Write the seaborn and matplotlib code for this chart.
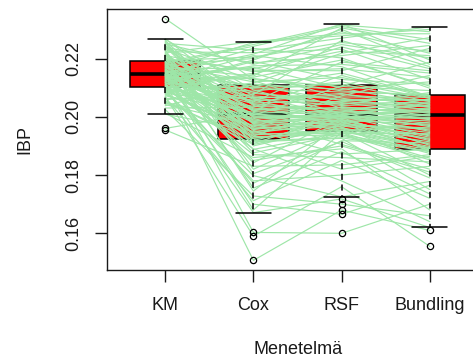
import matplotlib
matplotlib.use("Agg")
import matplotlib.pyplot as plt
import pandas as pd
import seaborn as sns

methods = ["KM", "Cox", "RSF", "Bundling"]

# Integrated Brier score per data split, one entry per split for each method
ibp_km = [
    0.2120, 0.2070, 0.2161, 0.2099, 0.2140, 0.2025, 0.2189, 0.2087, 0.2226, 0.1955,
    0.2146, 0.2110, 0.2174, 0.2055, 0.2259, 0.2129, 0.2092, 0.2205, 0.2155, 0.2009,
    0.2138, 0.2180, 0.2076, 0.2245, 0.2117, 0.2164, 0.2047, 0.2197, 0.2144, 0.2102,
    0.1960, 0.2215, 0.2132, 0.2170, 0.2082, 0.2268, 0.2149, 0.2123, 0.2186, 0.2063,
    0.2232, 0.2142, 0.2106, 0.2201, 0.2158, 0.2038, 0.2177, 0.2337, 0.2135, 0.2096,
    0.2210, 0.2167, 0.2126, 0.2238, 0.2113, 0.2193, 0.2152, 0.2252, 0.2183, 0.2220,
    0.2156, 0.2066, 0.2203, 0.2115, 0.2089, 0.2229, 0.2139, 0.2012, 0.2181, 0.2100,
    0.2255, 0.2127, 0.2165, 0.2051, 0.2213, 0.2095, 0.2145, 0.2241, 0.2079, 0.2190,
    0.2118, 0.2150, 0.2042, 0.2262, 0.2133, 0.2175, 0.2097, 0.2218, 0.2108, 0.2159,
    0.2072, 0.2195, 0.2141, 0.2030, 0.2245, 0.2121, 0.2172, 0.2093, 0.2208, 0.2136,
    0.2059, 0.2184, 0.2266, 0.2104, 0.2153, 0.2084, 0.2235, 0.2124, 0.2169, 0.2098,
    0.2199, 0.2143, 0.2250, 0.2111, 0.2178, 0.2130, 0.2223, 0.2147, 0.2187, 0.2162,
]
ibp_cox = [
    0.1507, 0.1590, 0.1603, 0.1671, 0.1700, 0.1728, 0.1755, 0.1780, 0.1805, 0.1830,
    0.1850, 0.1870, 0.1888, 0.1905, 0.1918, 0.1926, 0.1932, 0.1938, 0.1944, 0.1950,
    0.1956, 0.1962, 0.1968, 0.1974, 0.1980, 0.1986, 0.1992, 0.1998, 0.2003, 0.2008,
    0.2012, 0.2018, 0.2024, 0.2030, 0.2036, 0.2042, 0.2048, 0.2054, 0.2060, 0.2066,
    0.2072, 0.2080, 0.2088, 0.2096, 0.2104, 0.2112, 0.2120, 0.2128, 0.2136, 0.2145,
    0.2155, 0.2165, 0.2175, 0.2185, 0.2195, 0.2205, 0.2215, 0.2228, 0.2242, 0.2258,
    0.1680, 0.1712, 0.1745, 0.1772, 0.1798, 0.1820, 0.1842, 0.1860, 0.1876, 0.1890,
    0.1900, 0.1908, 0.1914, 0.1919, 0.1922, 0.1927, 0.1934, 0.1941, 0.1947, 0.1953,
    0.1959, 0.1965, 0.1971, 0.1977, 0.1983, 0.1989, 0.1995, 0.2000, 0.2005, 0.2009,
    0.2015, 0.2021, 0.2027, 0.2033, 0.2039, 0.2045, 0.2051, 0.2057, 0.2063, 0.2069,
    0.2076, 0.2084, 0.2092, 0.2100, 0.2106, 0.2116, 0.2124, 0.2132, 0.2140, 0.2150,
    0.2160, 0.2170, 0.2180, 0.2190, 0.2200, 0.2210, 0.2220, 0.2235, 0.2248, 0.2255,
]
ibp_rsf = [
    0.1680, 0.1760, 0.1600, 0.1718, 0.1665, 0.1700, 0.1880, 0.1800, 0.1915, 0.1835,
    0.1900, 0.1860, 0.1946, 0.1963, 0.1928, 0.1958, 0.1938, 0.1953, 0.1982, 0.1968,
    0.1990, 0.1973, 0.1986, 0.1978, 0.2001, 0.1993, 0.2004, 0.1996, 0.2003, 0.1999,
    0.2020, 0.2006, 0.2032, 0.2010, 0.2026, 0.2015, 0.2053, 0.2076, 0.2039, 0.2068,
    0.2046, 0.2060, 0.2120, 0.2085, 0.2150, 0.2094, 0.2135, 0.2104, 0.2195, 0.2240,
    0.2165, 0.2225, 0.2180, 0.2210, 0.2300, 0.2255, 0.2319, 0.2270, 0.2310, 0.2285,
    0.1947, 0.1850, 0.1980, 0.1918, 0.1725, 0.1955, 0.1997, 0.1890, 0.1939, 0.1780,
    0.1970, 0.2008, 0.1926, 0.1988, 0.1820, 0.1950, 0.2035, 0.1943, 0.2002, 0.1872,
    0.1975, 0.2072, 0.1933, 0.1994, 0.2017, 0.1960, 0.1905, 0.2003, 0.2106, 0.1984,
    0.1949, 0.2049, 0.2000, 0.2142, 0.1965, 0.2023, 0.2188, 0.1991, 0.2080, 0.2005,
    0.2262, 0.2042, 0.2012, 0.2112, 0.2056, 0.2218, 0.2029, 0.2089, 0.2305, 0.2064,
    0.2158, 0.2098, 0.2248, 0.2128, 0.2292, 0.2172, 0.2232, 0.2202, 0.2315, 0.2278,
]
ibp_bundling = [
    0.1610, 0.1555, 0.1700, 0.1620, 0.1765, 0.1660, 0.1735, 0.1830, 0.1790, 0.1870,
    0.1810, 0.1845, 0.1858, 0.1891, 0.1880, 0.1914, 0.1887, 0.1898, 0.1906, 0.1938,
    0.1922, 0.1962, 0.1930, 0.1946, 0.1954, 0.1986, 0.1970, 0.2009, 0.1978, 0.1994,
    0.2003, 0.2025, 0.2015, 0.2040, 0.2020, 0.2030, 0.2035, 0.2055, 0.2045, 0.2067,
    0.2050, 0.2059, 0.2063, 0.2077, 0.2070, 0.2120, 0.2073, 0.2090, 0.2105, 0.2165,
    0.2135, 0.2210, 0.2150, 0.2245, 0.2180, 0.2225, 0.2195, 0.2309, 0.2265, 0.2285,
    0.1800, 0.1720, 0.2007, 0.1910, 0.1778, 0.1874, 0.1902, 0.1680, 0.1852, 0.1640,
    0.1958, 0.2018, 0.1750, 0.1974, 0.1864, 0.1982, 0.2005, 0.1942, 0.1934, 0.1888,
    0.1889, 0.2142, 0.1882, 0.2028, 0.2061, 0.1926, 0.1820, 0.2048, 0.2188, 0.1885,
    0.1894, 0.2012, 0.1998, 0.2065, 0.1838, 0.1990, 0.2158, 0.1918, 0.2032, 0.1950,
    0.2172, 0.2083, 0.1966, 0.2052, 0.2057, 0.2272, 0.2038, 0.2072, 0.2252, 0.2022,
    0.2235, 0.2042, 0.2202, 0.2112, 0.2218, 0.2069, 0.2128, 0.2098, 0.2292, 0.2300,
]

y_ticks = [0.16, 0.18, 0.20, 0.22]
y_tick_labels = ["0.16", "0.18", "0.20", "0.22"]

sns.set_theme(style="white")
plt.rcParams["font.family"] = ["Liberation Sans", "DejaVu Sans"]

wide = pd.DataFrame({
    "KM": ibp_km,
    "Cox": ibp_cox,
    "RSF": ibp_rsf,
    "Bundling": ibp_bundling,
})
wide["id"] = range(len(wide))
long = wide.melt(id_vars="id", var_name="Menetelmä", value_name="IBP")

W, H = 473, 364
fig = plt.figure(figsize=(W / 100, H / 100), dpi=100)
fig.patch.set_facecolor("white")
ax = fig.add_axes([107 / W, 1 - 270 / H, 381 / W, 261 / H])

sns.boxplot(
    data=long, x="Menetelmä", y="IBP", order=methods, ax=ax,
    color="#ff0000", saturation=1, width=0.8, linecolor="black", linewidth=1.1,
    boxprops=dict(zorder=2),
    medianprops=dict(color="black", linewidth=2.6, zorder=2.1),
    whiskerprops=dict(linestyle=(0, (4, 3)), zorder=4),
    capprops=dict(zorder=4),
    flierprops=dict(marker="o", markersize=4.5, markerfacecolor="none",
                    markeredgecolor="black", markeredgewidth=0.9, zorder=5),
)

# one polyline per split, linking its score across the four methods
sns.lineplot(
    data=long, x="Menetelmä", y="IBP", units="id", estimator=None,
    color="#9ee6a8", linewidth=0.85, ax=ax, zorder=3, legend=False, sort=False,
)

ax.set_xlim(-0.66, 3.66)
ax.set_ylim(0.1474, 0.2370)
ax.set_xticks(range(len(methods)))
ax.set_xticklabels(methods)
ax.set_yticks(y_ticks)
ax.set_yticklabels(y_tick_labels, rotation=90, va="center")

txt = "#1a1a1a"
ax.tick_params(axis="both", direction="out", length=8.5, width=1.0, color=txt,
               labelsize=13, labelcolor=txt, bottom=True, left=True)
ax.tick_params(axis="x", pad=11)
ax.tick_params(axis="y", pad=9)
for side in ax.spines.values():
    side.set_color(txt)
    side.set_linewidth(1.0)

ax.set_xlabel("Menetelmä", fontsize=13, color=txt)
ax.set_ylabel("IBP", fontsize=13, color=txt)
ax.xaxis.set_label_coords(0.501, -0.272)
ax.yaxis.set_label_coords(-0.194, 0.5)

fig.savefig("out.png", dpi=100, facecolor="white")
